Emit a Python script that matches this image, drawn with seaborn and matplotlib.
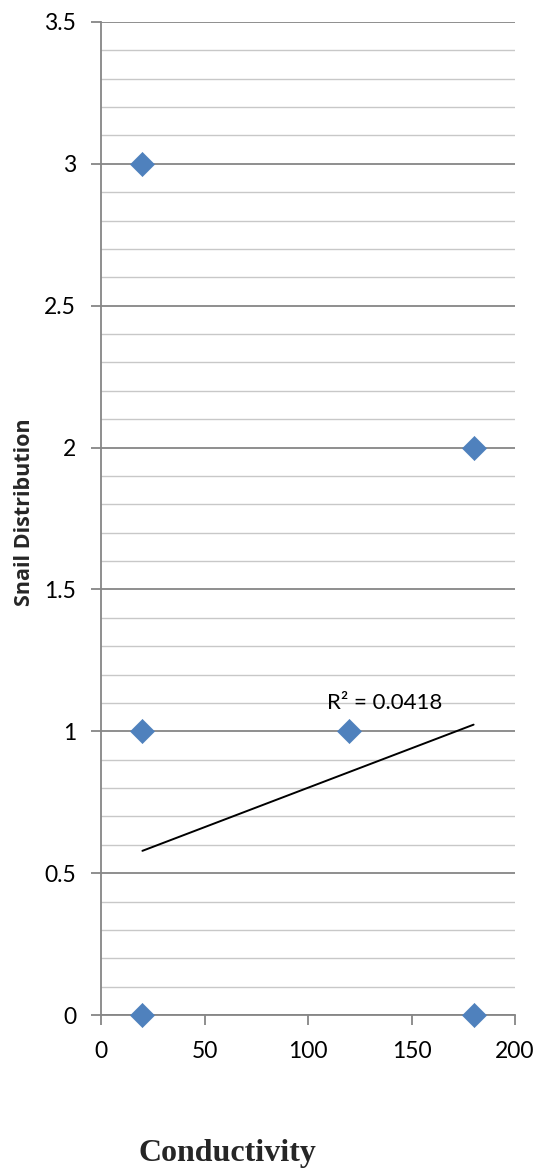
import numpy as np
import pandas as pd
import matplotlib
matplotlib.use("Agg")
import matplotlib.pyplot as plt
from matplotlib.ticker import MultipleLocator
import seaborn as sns

# Observations: conductivity vs. snail distribution
conductivity = [20, 20, 20, 120, 180, 180]
snail_distribution = [3, 1, 0, 1, 2, 0]

# Linear trendline as reported by the spreadsheet fit
trend_x = [20, 180]
trend_slope = 0.00278
trend_intercept = 0.523
r_squared = 0.0418

x_ticks = [0, 50, 100, 150, 200]
y_ticks = [0, 0.5, 1, 1.5, 2, 2.5, 3, 3.5]

df = pd.DataFrame({"Conductivity": conductivity,
                   "Snail Distribution": snail_distribution})

sns.set_style("white")
plt.rcParams["font.family"] = ["Lato", "DejaVu Sans"]

fig = plt.figure(figsize=(5.52, 11.73), dpi=100)
ax = fig.add_axes([101 / 552, 1 - 1015 / 1173, 414 / 552, 993 / 1173])

major_grey = "#868686"
minor_grey = "#c8c8c8"

ax.set_xlim(0, 200)
ax.set_ylim(0, 3.5)
ax.yaxis.set_major_locator(MultipleLocator(0.5))
ax.yaxis.set_minor_locator(MultipleLocator(0.1))
ax.set_xticks(x_ticks)
ax.set_yticks(y_ticks)
ax.set_yticklabels([f"{v:g}" for v in y_ticks])

ax.grid(axis="y", which="minor", color=minor_grey, linewidth=1.0, zorder=0)
ax.grid(axis="y", which="major", color=major_grey, linewidth=1.3, zorder=0)
ax.set_axisbelow(True)

for side in ["top", "right"]:
    ax.spines[side].set_visible(False)
for side in ["left", "bottom"]:
    ax.spines[side].set_color(major_grey)
    ax.spines[side].set_linewidth(1.3)

ax.tick_params(axis="both", which="major", direction="out", length=7,
               width=1.3, color=major_grey, labelsize=16.5,
               labelcolor="black")
ax.tick_params(axis="y", pad=11)
ax.tick_params(axis="x", pad=12)
ax.tick_params(axis="y", which="minor", length=0)
ax.tick_params(axis="x", bottom=True)
ax.tick_params(axis="y", left=True)

sns.scatterplot(data=df, x="Conductivity", y="Snail Distribution", ax=ax,
                marker="D", s=150, color="#4F81BD", edgecolor="#4F81BD",
                linewidth=0.5, zorder=3, clip_on=False)

tx = np.array(trend_x, dtype=float)
ax.plot(tx, trend_intercept + trend_slope * tx, color="black", linewidth=1.4,
        zorder=4)

ax.text(137, 1.1, f"R² = {r_squared:.4f}", fontsize=16, ha="center",
        va="center", color="black")

ax.set_xlabel("")
ax.set_ylabel("Snail Distribution", family=["Open Sans", "DejaVu Sans"],
              fontsize=15.5, fontweight="bold")
ax.yaxis.set_label_coords(-0.16, 0.506)

fig.text(227 / 552, 1 - 1154 / 1173, "Conductivity",
         family=["Liberation Serif", "DejaVu Serif"], fontweight="bold",
         fontsize=23, ha="center", va="center")

fig.savefig("out.png", dpi=100)
